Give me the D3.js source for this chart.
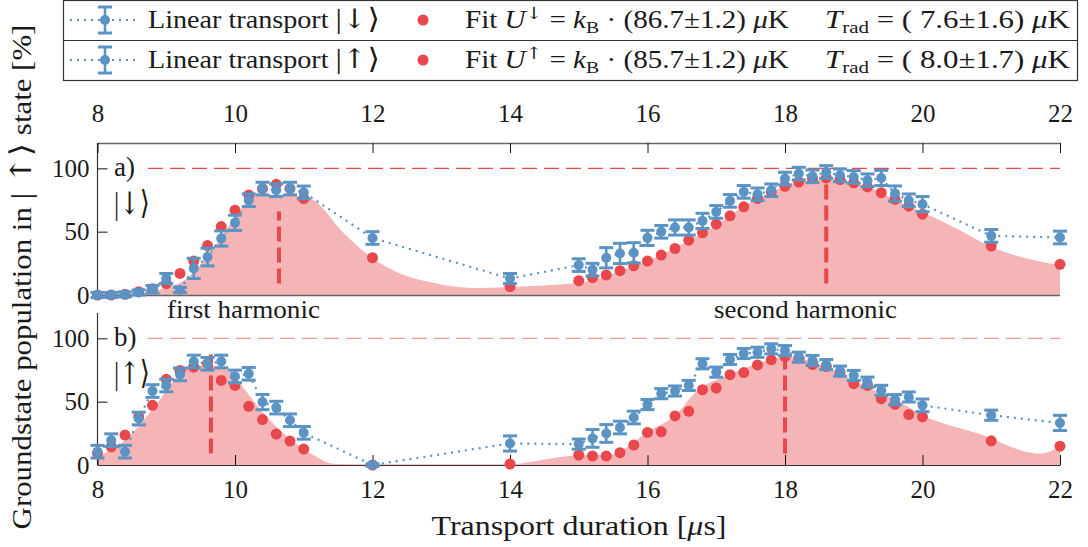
<!DOCTYPE html>
<html><head><meta charset="utf-8">
<script src="https://cdn.jsdelivr.net/npm/d3@7"></script>
<style>
html,body{margin:0;padding:0;background:#fff;}
svg text{font-family:"Liberation Serif","DejaVu Serif",serif;fill:#1a1a1a;}
</style></head>
<body><svg id="c" width="1088" height="547"></svg>
<script>
// ---------- data ----------
const times = [8.0,8.2,8.4,8.6,8.8,9.0,9.2,9.4,9.6,9.8,10.0,10.2,10.4,10.6,10.8,11.0,12,14,
  15.0,15.2,15.4,15.6,15.8,16.0,16.2,16.4,16.6,16.8,17.0,17.2,17.4,17.6,17.8,18.0,18.2,18.4,18.6,18.8,19.0,19.2,19.4,19.6,19.8,20.0,21,22];
const linearDown = [0,0,0.5,2,4.5,13,4,21,30,44.6,57,74.8,84,82.7,84,81,45,13,
  23.6,20,29.4,32.8,33.3,45.1,49.9,53.3,53.3,58.5,65.6,74.3,81.4,79.5,82.7,91.9,95.8,93.7,97.1,94.5,93.2,90.6,92.4,80.1,74.8,71.7,46.7,45.4];
const errDown = [2,2,2,2,3,4,2,8,7,6,6,5,5,5,5,5,5,4,
  5,5,8,8,8,6,5,6,6,6,5,5,5,5,5,5,5,5,5,5,5,5,6,6,5,6,5,5];
const fitDown = [0,0,0.5,2.6,5,9,17,26.8,39,54,67,79,84,87.4,84,76,29.4,6.6,
  11.3,13.7,15.7,19.2,23.1,26.8,31.5,36.7,43.3,49.1,55.9,62.5,69.6,76.2,81.4,85.8,89.2,91.9,92.4,91.1,88.5,85.3,80.8,75.6,70.1,63.8,38.6,24.2];
const linearUp = [10.5,19.6,10.5,36.7,58.4,62.8,71.5,81.7,79.9,81.7,69.9,72.0,49.7,45.3,35.3,25.4,0,17,
  16.5,21,24.9,29.6,37.5,47.7,56.3,58.4,62.8,79.9,73.3,83.3,88,89,91.7,90.3,85.1,82.5,79.3,74.1,70.7,65.4,58.9,51.6,53.7,47.1,39.3,33.2];
const errUp = [5,5,5,5,5,5,5,5,5,5,5,5,6,5,5,5,1,6,
  4,7,7,5,5,4,4,4,4,4,4,4,4,4,4,4,4,4,4,4,4,4,4,4,4,5,4,6];
const fitUp = [9.2,14.4,23.6,38,47.1,67.6,74.6,77.2,80,66.8,62.8,46.3,35.9,24.4,18.9,12.6,0,0.8,
  7.9,7.1,7.1,9.7,15.7,25.7,26.2,38.7,42.4,59.4,60.8,71.3,73,79,83,85.5,84.6,79.3,77.8,73.3,64.2,62.8,52.4,47.9,39.8,38,19.1,14.9];
// model curves (shaded)
const modelDownT = [8,8.5,8.8,9.0,9.23,9.63,10.02,10.22,10.4,10.8,11.0,11.1,11.58,12.0,12.4,12.9,13.47,14.0,14.98,15.56,16.0,16.5,17.0,17.4,17.8,18.0,18.2,18.6,19.0,19.4,19.6,20.0,20.55,21.0,21.5,22];
const modelDownV = [0,0.5,3,6,10.5,32.8,63,76,79,79,77,76,49,29,17,9.4,5.5,6.3,9.4,18,27,40,55,70,81,86,89,91,88,81,75,65.6,51,38,29,23.6];
const modelUpT = [8,8.43,8.83,9.22,9.4,9.8,10.03,10.42,10.82,11.14,11.43,12,14,14.32,14.68,15.02,15.5,15.7,16.0,16.4,16.73,17.16,17.59,18.0,18.2,18.6,19.0,19.4,19.8,20.0,20.3,20.8,21.0,21.5,21.7,22.0];
const modelUpV = [6.5,21,46,73,78.5,78,66.8,40.6,19.6,7.9,1,0.5,0.5,2.6,6,7.6,8.5,14,26,39,59,70.7,79.9,85,84,77,66.8,56.5,45.8,39,33,25,21,10.5,9,14.4];
const peakDown = [10.64, 18.6];
const peakDownTop = [66, 90.6];
const peakUp = [9.65, 18.0];
const peakUpTop = [87.8, 82.5];
const xTicks = [8,10,12,14,16,18,20,22];
const yTicks = [0,50,100];
const fitU = ["86.7±1.2","85.7±1.2"];
const tRad = [" 7.6±1.6"," 8.0±1.7"];

// ---------- styles ----------
const BLUE = "#5a93c4", RED = "#e8474b", FILL = "#f5b5b6";
const svg = d3.select("#c");
const x = d3.scaleLinear().domain([8,22]).range([97.5,1060]);
const ya = d3.scaleLinear().domain([0,120]).range([295,143]);
const yb = d3.scaleLinear().domain([0,120]).range([465,313]);

function fitText(g, width){
  const bb = g.node().getBBox();
  return bb.width ? width/bb.width : 1;
}
function addLabel(parent, px, py, anchor, size, width, build, rot){
  const g = parent.append("g");
  const t = g.append("text").attr("text-anchor",anchor).style("font-size",size+"px");
  build(t);
  let k = width ? fitText(t, width) : 1;
  g.attr("transform",`translate(${px},${py})${rot?` rotate(${rot})`:""} scale(${k},1)`);
  return g;
}
function ket(t, arrow, big){
  t.append("tspan").style("font-size",(big*1.05)+"px").style("font-weight","300").text("|");
  t.append("tspan").style("font-size",big+"px").style("font-family","DejaVu Serif").text(arrow);
  t.append("tspan").style("font-size",(big*1.05)+"px").text("⟩");
}

function panel(y, modelT, modelV, lin, err, fit, peaks, peakTop, dashColor, isA){
  const g = svg.append("g");
  const pts = modelT.map((t,i)=>[t, modelV[i]]);
  g.append("path").datum(pts)
    .attr("d", d3.area().x(d=>x(d[0])).y0(y(0)).y1(d=>y(d[1])).curve(d3.curveMonotoneX))
    .attr("fill", FILL).attr("stroke","none");
  g.append("line").attr("x1",148).attr("x2",x(22)).attr("y1",y(100)).attr("y2",y(100))
    .attr("stroke",dashColor).attr("stroke-width",1.3).attr("stroke-dasharray","15,7");
  peaks.forEach((p,i)=>{
    g.append("line").attr("x1",x(p)).attr("x2",x(p)).attr("y1",y(9)).attr("y2",y(peakTop[i]))
      .attr("stroke",RED).attr("stroke-width",4).attr("stroke-dasharray","15,6");
  });
  const left = g.append("g").attr("transform",`translate(${x(8)},0)`)
    .call(d3.axisLeft(y).tickValues(yTicks).tickSize(-10).tickSizeOuter(0).tickPadding(8));
  left.select(".domain").remove();
  left.append("line").attr("x1",0).attr("x2",0).attr("y1",y(120)).attr("y2",y(0)).attr("stroke","#333").attr("stroke-width",1.2);
  if(isA){
    const top = g.append("g").attr("transform",`translate(0,${y(120)})`)
      .call(d3.axisTop(x).tickValues(xTicks).tickSize(-10).tickSizeOuter(0).tickPadding(21));
    top.select(".domain").attr("stroke","#666").attr("stroke-width",1.6);
    g.append("line").attr("x1",x(8)).attr("x2",x(22)).attr("y1",y(0)+0.5).attr("y2",y(0)+0.5)
      .attr("stroke","#666").attr("stroke-width",1.6);
  } else {
    const bot = g.append("g").attr("transform",`translate(0,${y(0)})`)
      .call(d3.axisBottom(x).tickValues(xTicks).tickSize(-10).tickSizeOuter(0).tickPadding(15));
    bot.select(".domain").attr("stroke","#333").attr("stroke-width",1.2);
  }
  g.selectAll(".tick text").style("font-size","25px").style("font-family",'"Liberation Serif","DejaVu Serif",serif').attr("fill","#1a1a1a");
  g.selectAll(".tick line").attr("stroke","#111");
  const lp = times.map((t,i)=>[t, lin[i]]);
  g.append("path").datum(lp).attr("d", d3.line().x(d=>x(d[0])).y(d=>y(d[1])))
    .attr("fill","none").attr("stroke",BLUE).attr("stroke-width",2.2).attr("stroke-dasharray","2,5");
  g.append("g").selectAll("circle").data(times).join("circle")
    .attr("cx",t=>x(t)).attr("cy",(t,i)=>y(fit[i])).attr("r",5.5).attr("fill",RED);
  const eb = g.append("g").attr("stroke",BLUE).attr("stroke-width",2.6);
  times.forEach((t,i)=>{
    const cx = x(t), y1 = y(lin[i]-err[i]), y2 = y(lin[i]+err[i]);
    eb.append("line").attr("x1",cx).attr("x2",cx).attr("y1",y1).attr("y2",y2);
    eb.append("line").attr("x1",cx-7).attr("x2",cx+7).attr("y1",y1).attr("y2",y1).attr("stroke-width",3);
    eb.append("line").attr("x1",cx-7).attr("x2",cx+7).attr("y1",y2).attr("y2",y2).attr("stroke-width",3);
  });
  g.append("g").selectAll("circle").data(times).join("circle")
    .attr("cx",t=>x(t)).attr("cy",(t,i)=>y(lin[i])).attr("r",5).attr("fill",BLUE);
  return g;
}

panel(ya, modelDownT, modelDownV, linearDown, errDown, fitDown, peakDown, peakDownTop, RED, true);
panel(yb, modelUpT, modelUpV, linearUp, errUp, fitUp, peakUp, peakUpTop, "#f19495", false);

// annotations
addLabel(svg, 114, ya(100)+8, "start", 27, 0, t=>t.text("a)"));
addLabel(svg, 114, ya(100)+46, "start", 28, 36, t=>ket(t,"↓",31));
addLabel(svg, 114, yb(100)+8, "start", 27, 0, t=>t.text("b)"));
addLabel(svg, 114, yb(100)+46, "start", 28, 36, t=>ket(t,"↑",31));
addLabel(svg, 243.5, 318, "middle", 25, 153, t=>t.text("first harmonic"));
addLabel(svg, 805.5, 318, "middle", 25, 183, t=>t.text("second harmonic"));

// axis titles
addLabel(svg, 579, 535, "middle", 27, 295, t=>{
  t.append("tspan").text("Transport duration [");
  t.append("tspan").style("font-style","italic").text("μ");
  t.append("tspan").text("s]");
});
addLabel(svg, 31, 277, "middle", 27, 505, t=>{
  t.append("tspan").text("Groundstate population in ");
  t.append("tspan").style("font-size","30px").text("| ");
  t.append("tspan").style("font-size","29px").style("font-family","DejaVu Serif").text("↑");
  t.append("tspan").style("font-size","30px").text("⟩");
  t.append("tspan").text(" state [%]");
}, -90);

// legend
const lg = svg.append("g");
lg.append("rect").attr("x",63.5).attr("y",0.5).attr("width",1014).attr("height",80)
  .attr("fill","none").attr("stroke","#333").attr("stroke-width",1.2);
lg.append("line").attr("x1",63.5).attr("x2",1077.5).attr("y1",40.5).attr("y2",40.5).attr("stroke","#333").attr("stroke-width",1.2);
const arrows = ["↓","↑"];
[0,1].forEach(r=>{
  const cy = 20 + r*40, base = cy + 8;
  lg.append("line").attr("x1",70).attr("x2",138).attr("y1",cy).attr("y2",cy)
    .attr("stroke",BLUE).attr("stroke-width",2.2).attr("stroke-dasharray","2,5");
  lg.append("line").attr("x1",105).attr("x2",105).attr("y1",cy-13).attr("y2",cy+13).attr("stroke",BLUE).attr("stroke-width",2.6);
  lg.append("line").attr("x1",98).attr("x2",112).attr("y1",cy-13).attr("y2",cy-13).attr("stroke",BLUE).attr("stroke-width",3);
  lg.append("line").attr("x1",98).attr("x2",112).attr("y1",cy+13).attr("y2",cy+13).attr("stroke",BLUE).attr("stroke-width",3);
  lg.append("circle").attr("cx",105).attr("cy",cy).attr("r",5).attr("fill",BLUE);
  addLabel(lg, 148, base, "start", 25, 232, t=>{ t.append("tspan").text("Linear transport "); ket(t, arrows[r], 27); });
  lg.append("circle").attr("cx",423).attr("cy",cy).attr("r",5.5).attr("fill",RED);
  addLabel(lg, 465, base, "start", 25, 324, t=>{
    t.append("tspan").text("Fit ");
    t.append("tspan").style("font-style","italic").text("U");
    t.append("tspan").attr("dy",-9).style("font-size","17px").style("font-family","DejaVu Serif").text(arrows[r]);
    t.append("tspan").attr("dy",9).text(" = ");
    t.append("tspan").style("font-style","italic").text("k");
    t.append("tspan").attr("dy",5).style("font-size","17px").text("B");
    t.append("tspan").attr("dy",-5).text(` · (${fitU[r]}) `);
    t.append("tspan").style("font-style","italic").text("μ");
    t.append("tspan").text("K");
  });
  addLabel(lg, 825, base, "start", 25, 245, t=>{
    t.append("tspan").style("font-style","italic").text("T");
    t.append("tspan").attr("dy",5).style("font-size","17px").text("rad");
    t.append("tspan").attr("dy",-5).text(` = (${tRad[r]}) `);
    t.append("tspan").style("font-style","italic").text("μ");
    t.append("tspan").text("K");
  });
});
</script></body></html>
